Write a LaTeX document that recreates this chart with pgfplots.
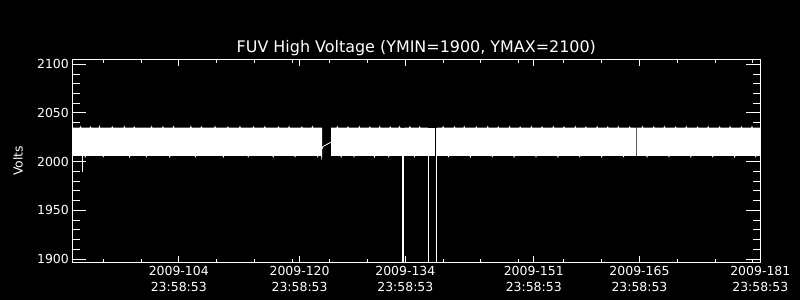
\documentclass[border=0pt]{standalone}
\usepackage{fontspec}
\setmainfont{DejaVu Sans}
\usepackage{pgfplots}
\pgfplotsset{compat=1.18}
\begin{document}
\begin{tikzpicture}
\fill[black] (0bp,0bp) rectangle (800bp,300bp);
\begin{axis}[
  at={(72.3bp,37.3bp)}, anchor=south west,
  scale only axis, width=688bp, height=203.4bp,
  xmin=89.9, xmax=181, ymin=1896.2, ymax=2105.1,
  axis line style={white, line width=0.9bp},
  tick style={white, line width=0.9bp},
  major tick length=14bp, minor tick length=7.5bp,
  every major x tick/.append style={/pgfplots/major tick length=6.7bp},
  every minor x tick/.append style={/pgfplots/minor tick length=3.3bp},
  ytick={1900,1950,2000,2050,2100},
  minor y tick num=4,
  xtick={104,120,134,151,165,181},
  xticklabels={{2009-104\\23:58:53},{2009-120\\23:58:53},{2009-134\\23:58:53},{2009-151\\23:58:53},{2009-165\\23:58:53},{2009-181\\23:58:53}},
  minor xtick={94,99,109,114,119,124,129,139,144,149,155,160,170,175,180},
  /pgf/number format/assume math mode=true,
  /pgf/number format/1000 sep={},
  xticklabel style={align=center, font=\fontsize{12.5}{16}\selectfont, text=white},
  yticklabel style={font=\fontsize{12.5}{15}\selectfont, text=white},
  title={FUV High Voltage (YMIN=1900, YMAX=2100)},
  title style={at={(0.5,1)}, anchor=base, yshift=0.5bp, inner sep=0pt, font=\fontsize{16}{18}\selectfont, text=white},
  ylabel={Volts},
  ylabel style={at={(axis description cs:-0.079,0.5)}, anchor=center, font=\fontsize{12.5}{15}\selectfont, text=white},
]
% segment 1
\addplot[fill=white, draw=none] coordinates {
(89.9,2006)(89.9,2035)(90.9,2035)(91.0,2037)(91.1,2035)(92.2,2035)(92.3,2036.5)(92.4,2035)(93.4,2035)(93.5,2037.5)(93.6,2035)(95.1,2035)(95.2,2036.5)(95.3,2035)(96.7,2035)(96.8,2037)(96.9,2035)(98.0,2035)(98.1,2036.5)(98.2,2035)(100.3,2035)(100.4,2037)(100.5,2035)(101.8,2035)(101.9,2036.5)(102.0,2035)(103.2,2035)(103.3,2037)(103.4,2035)(105.5,2035)(105.6,2037.5)(105.7,2035)(106.9,2035)(107.0,2036.5)(107.1,2035)(108.7,2035)(108.8,2037)(108.9,2035)(110.4,2035)(110.5,2036.5)(110.6,2035)(112.0,2035)(112.1,2037)(112.2,2035)(113.8,2035)(113.9,2036.5)(114.0,2035)(115.3,2035)(115.4,2037)(115.5,2035)(117.1,2035)(117.2,2036.5)(117.3,2035)(118.5,2035)(118.6,2037)(118.7,2035)(120.2,2035)(120.3,2036.5)(120.4,2035)(121.6,2035)(121.7,2037)(121.8,2035)(122.97,2035)
(122.97,2006)(122.95,2002)(122.88,2002)(122.86,2006)(122.5,2006)(122.4,2004)(122.3,2006)(119.5,2006)(119.4,2004)(119.3,2006)(116.6,2006)(116.5,2003.5)(116.4,2006)(113.3,2006)(113.2,2004)(113.1,2006)(110.0,2006)(109.9,2003.5)(109.8,2006)(106.3,2006)(106.2,2004)(106.1,2006)(102.9,2006)(102.8,2003.5)(102.7,2006)(99.8,2006)(99.7,2004)(99.6,2006)(97.6,2006)(97.5,2003.5)(97.4,2006)(94.1,2006)(94.0,2004)(93.9,2006)(91.7,2006)(91.6,2003.5)(91.5,2006)(89.9,2006)
};
% segment 2
\addplot[fill=white, draw=none] coordinates {
(124.16,2006)(124.16,2035)(124.9,2035)(125.0,2037)(125.1,2035)(126.3,2035)(126.4,2036.5)(126.5,2035)(127.8,2035)(127.9,2037)(128.0,2035)(129.2,2035)(129.3,2036.5)(129.4,2035)(130.5,2035)(130.6,2037)(130.7,2035)(131.9,2035)(132.0,2036.5)(132.1,2035)(133.1,2035)(133.2,2037)(133.3,2035)(133.58,2035)
(133.58,2006)(131.9,2006)(131.8,2004)(131.7,2006)(130.0,2006)(129.9,2003.5)(129.8,2006)(127.3,2006)(127.2,2004)(127.1,2006)(125.6,2006)(125.5,2003.5)(125.4,2006)(124.16,2006)
};
% segment 3
\addplot[fill=white, draw=none] coordinates {
(133.80,2006)(133.80,2035)(134.5,2035)(134.6,2037)(134.7,2035)(135.8,2035)(135.9,2036.5)(136.0,2035)(137.0,2035)
(137.0,2006)(135.3,2006)(135.2,2004)(135.1,2006)(133.80,2006)
};
% segment 4
\addplot[fill=white, draw=none] coordinates {
(137.17,2006)(137.17,2035)(137.92,2035)(137.92,2006)
};
% segment 5
\addplot[fill=white, draw=none] coordinates {
(138.2,2006)(138.2,2035)(138.9,2035)(139.0,2037)(139.1,2035)(140.4,2035)(140.5,2036.5)(140.6,2035)(141.7,2035)(141.8,2037)(141.9,2035)(143.3,2035)(143.4,2036.5)(143.5,2035)(144.8,2035)(144.9,2037)(145.0,2035)(146.2,2035)(146.3,2036.5)(146.4,2035)(147.7,2035)(147.8,2037)(147.9,2035)(149.1,2035)(149.2,2036.5)(149.3,2035)(150.6,2035)(150.7,2037)(150.8,2035)(152.0,2035)(152.1,2036.5)(152.2,2035)(153.5,2035)(153.6,2037)(153.7,2035)(154.9,2035)(155.0,2036.5)(155.1,2035)(156.4,2035)(156.5,2037)(156.6,2035)(157.8,2035)(157.9,2036.5)(158.0,2035)(159.3,2035)(159.4,2037)(159.5,2035)(160.7,2035)(160.8,2036.5)(160.9,2035)(162.1,2035)(162.2,2037)(162.3,2035)(163.6,2035)(163.7,2036.5)(163.8,2035)(164.52,2035)
(164.52,2006)(163.0,2006)(162.9,2004)(162.8,2006)(160.1,2006)(160.0,2003.5)(159.9,2006)(157.2,2006)(157.1,2004)(157.0,2006)(154.3,2006)(154.2,2003.5)(154.1,2006)(151.4,2006)(151.3,2004)(151.2,2006)(148.5,2006)(148.4,2003.5)(148.3,2006)(145.6,2006)(145.5,2004)(145.4,2006)(142.7,2006)(142.6,2003.5)(142.5,2006)(139.8,2006)(139.7,2004)(139.6,2006)(138.2,2006)
};
% segment 6
\addplot[fill=white, draw=none] coordinates {
(164.62,2006)(164.62,2035)(165.3,2035)(165.4,2037)(165.5,2035)(166.8,2035)(166.9,2036.5)(167.0,2035)(168.2,2035)(168.3,2037)(168.4,2035)(169.7,2035)(169.8,2036.5)(169.9,2035)(171.1,2035)(171.2,2037)(171.3,2035)(172.6,2035)(172.7,2036.5)(172.8,2035)(174.0,2035)(174.1,2037)(174.2,2035)(175.5,2035)(175.6,2036.5)(175.7,2035)(176.9,2035)(177.0,2037)(177.1,2035)(178.4,2035)(178.5,2036.5)(178.6,2035)(179.8,2035)(179.9,2037)(180.0,2035)(181,2035)
(181,2006)(180.5,2006)(180.4,2004)(180.3,2006)(177.7,2006)(177.6,2003.5)(177.5,2006)(174.8,2006)(174.7,2004)(174.6,2006)(171.9,2006)(171.8,2003.5)(171.7,2006)(169.0,2006)(168.9,2004)(168.8,2006)(166.1,2006)(166.0,2003.5)(165.9,2006)(164.62,2006)
};
% connecting line across data gap
\addplot[white, line width=0.8bp] coordinates {(122.97,2013)(123.07,2015.4)(124.13,2019.9)(124.16,2020)};
% downward spike near start
\addplot[white, line width=1bp] coordinates {(91.25,2006)(91.25,1989)};
% drops below the range
\addplot[white, line width=1.7bp] coordinates {(133.72,2035)(133.72,1880)};
\addplot[white, line width=1.3bp] coordinates {(137.05,2035)(137.05,1880)};
\addplot[white, line width=1.3bp] coordinates {(138.08,2035)(138.08,1880)};
\end{axis}
\pgfresetboundingbox
\useasboundingbox (0bp,0bp) rectangle (800bp,300bp);
\end{tikzpicture}
\end{document}
